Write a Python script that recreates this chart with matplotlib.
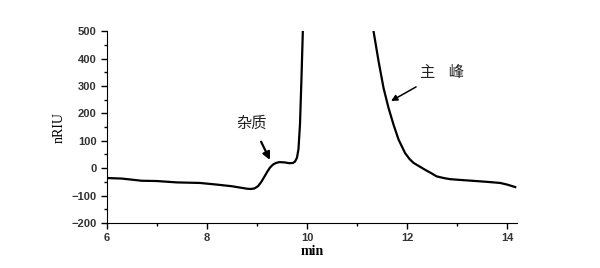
import matplotlib.pyplot as plt
import numpy as np

plt.rcParams['font.family'] = ['Liberation Sans', 'DejaVu Sans']

# chromatogram trace (min, nRIU)
time = [6.0, 6.3, 6.7, 7.0, 7.4, 7.86, 8.2, 8.5, 8.7, 8.8, 8.88, 8.95, 9.02,
        9.08, 9.14, 9.2, 9.26, 9.32, 9.38, 9.45, 9.55, 9.65, 9.72, 9.76,
        9.8, 9.83, 9.86, 9.89, 9.92, 10.0, 10.6, 11.2, 11.33, 11.43, 11.53,
        11.63, 11.73, 11.83, 11.96, 12.05, 12.13, 12.25, 12.36, 12.48,
        12.59, 12.73, 12.85, 13.06, 13.3, 13.6, 13.86, 14.0, 14.16]
signal = [-36, -38, -46, -47, -52, -54, -60, -66, -72, -75, -76, -74, -66,
          -52, -34, -15, 2, 13, 19, 22, 21, 18, 19, 24,
          38, 70, 160, 330, 520, 1500, 5000, 900, 499, 390, 292,
          219, 158, 104, 55, 33, 19, 6, -6, -18,
          -30, -36, -40, -43, -46, -50, -54, -60, -69]

fig = plt.figure(figsize=(6, 2.68), dpi=100)
ax = fig.add_axes([0.178, 0.168, 0.684, 0.716])
ax.plot(time, signal, color='black', linewidth=1.6)
ax.set_xlim(6, 14.2)
ax.set_ylim(-200, 500)
ax.set_xticks([6, 8, 10, 12, 14])
ax.set_xticks(np.arange(7, 14, 2), minor=True)
ax.set_yticks(np.arange(-200, 501, 100))
ax.set_yticks(np.arange(-150, 500, 100), minor=True)
ax.spines['top'].set_visible(False)
ax.spines['right'].set_visible(False)
ax.tick_params(axis='both', which='major', labelsize=8, length=4, width=1)
ax.tick_params(axis='both', which='minor', length=2.5, width=1)
for lab in ax.get_xticklabels() + ax.get_yticklabels():
    lab.set_fontweight('bold')
    lab.set_color('#333333')

ax.set_xlabel('min', family='Liberation Serif', fontsize=10, fontweight='bold', labelpad=1)
ax.set_ylabel('nRIU', family='Liberation Serif', fontsize=10, labelpad=4)

cjk = ['Noto Sans CJK SC', 'DejaVu Sans']
ax.annotate('杂质', xy=(9.26, 30), xytext=(8.9, 165), family=cjk, fontsize=11,
            ha='center', va='center', color='#222222',
            arrowprops=dict(arrowstyle='-|>', color='black', lw=1.6,
                            shrinkA=6, shrinkB=0, mutation_scale=11))
ax.annotate('主    峰', xy=(11.68, 245), xytext=(12.7, 350), family=cjk, fontsize=11,
            ha='center', va='center', color='#222222',
            arrowprops=dict(arrowstyle='-|>', color='black', lw=1.1,
                            shrinkA=5, shrinkB=0, mutation_scale=9))

fig.savefig('out.png', dpi=100)
